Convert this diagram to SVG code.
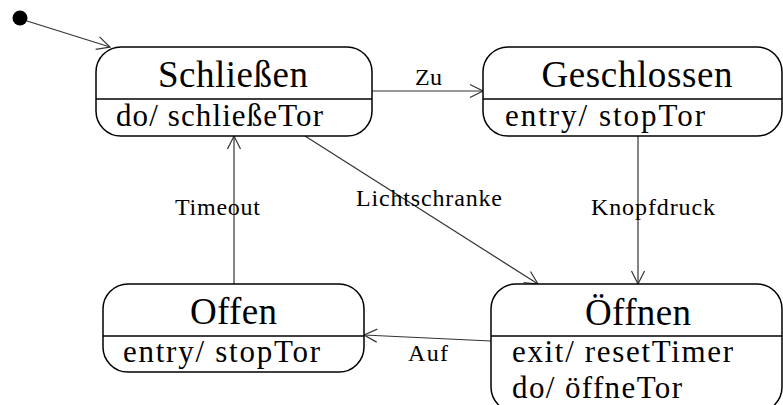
<svg xmlns="http://www.w3.org/2000/svg" width="783" height="405" viewBox="0 0 783 405">
<style>
.box{fill:#fff;stroke:#000;stroke-width:1.5}
.div{stroke:#000;stroke-width:1.5}
.t{font-family:"Liberation Serif","Times New Roman",serif;fill:#000}
.title{font-size:37px;text-anchor:middle}
.body{font-size:31px}
.lbl{font-size:24px}
.conn{fill:none;stroke:#333;stroke-width:1.2;marker-end:url(#arr)}
</style>
<defs>
<marker id="arr" markerUnits="userSpaceOnUse" viewBox="-14 -8 16 16" markerWidth="16" markerHeight="16" refX="0" refY="0" orient="auto">
<path d="M -13 -6.5 L 0 0 L -13 6.5" fill="none" stroke="#333" stroke-width="1.2"/>
</marker>
</defs>
<rect width="783" height="405" fill="#fff"/>
<g id="initial">
<circle cx="20" cy="18" r="7.5" fill="#000"/>
</g>
<g id="connectors">
<path class="conn" d="M 27 21 L 110 47"/>
<path class="conn" d="M 372 91 L 483 91"/>
<path class="conn" d="M 638 136 L 638 284"/>
<path class="conn" d="M 305 136 L 538 284"/>
<path class="conn" d="M 234 284 L 234 136"/>
<path class="conn" d="M 491 341 L 364 335"/>
<text class="t lbl" x="415" y="85" textLength="27">Zu</text>
<text class="t lbl" x="356" y="206" textLength="146">Lichtschranke</text>
<text class="t lbl" x="175" y="215" textLength="85">Timeout</text>
<text class="t lbl" x="591" y="215" textLength="124">Knopfdruck</text>
<text class="t lbl" x="408" y="361" textLength="40">Auf</text>
</g>
<g id="schliessen">
<rect class="box" x="96" y="47" width="276" height="89" rx="25"/>
<line class="div" x1="96" y1="99" x2="372" y2="99"/>
<text class="t title" x="233" y="87" textLength="150">Schließen</text>
<text class="t body" x="116" y="126" textLength="207">do/ schließeTor</text>
</g>
<g id="geschlossen">
<rect class="box" x="483" y="47" width="299" height="89" rx="25"/>
<line class="div" x1="483" y1="99" x2="782" y2="99"/>
<text class="t title" x="637" y="87" textLength="191">Geschlossen</text>
<text class="t body" x="505" y="126" textLength="200">entry/ stopTor</text>
</g>
<g id="offen">
<rect class="box" x="103" y="284" width="261" height="88" rx="25"/>
<line class="div" x1="103" y1="336" x2="364" y2="336"/>
<text class="t title" x="233.5" y="324" textLength="87">Offen</text>
<text class="t body" x="123" y="362" textLength="197">entry/ stopTor</text>
</g>
<g id="oeffnen">
<rect class="box" x="491" y="284" width="291" height="128" rx="25"/>
<line class="div" x1="491" y1="336" x2="782" y2="336"/>
<text class="t title" x="638" y="325" textLength="106">Öffnen</text>
<text class="t body" x="512" y="362" textLength="221">exit/ resetTimer</text>
<text class="t body" x="512" y="398" textLength="170">do/ öffneTor</text>
</g>
</svg>
